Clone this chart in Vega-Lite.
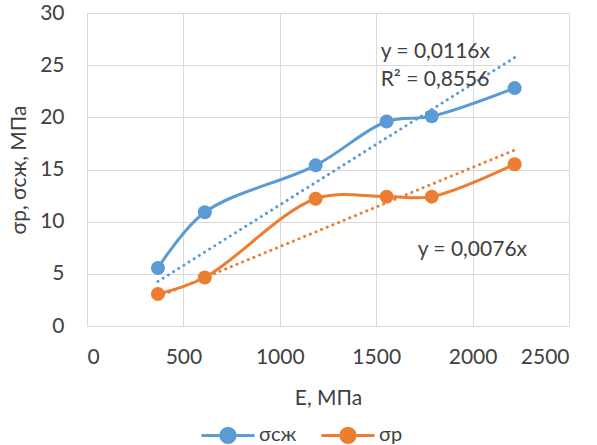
{
  "$schema": "https://vega.github.io/schema/vega-lite/v6.json",
  "width": 482,
  "height": 313,
  "autosize": {"type": "none"},
  "padding": {"left": 87, "top": 13, "right": 28, "bottom": 119},
  "background": "white",
  "config": {
    "font": "Lato",
    "view": {"stroke": null},
    "axis": {
      "labelFont": "Lato", "labelFontSize": 21, "labelColor": "#404040",
      "titleFont": "Lato", "titleFontSize": 21, "titleColor": "#404040", "titleFontWeight": "normal",
      "gridColor": "#d9d9d9", "gridWidth": 1, "domainColor": "#d9d9d9", "domainWidth": 1,
      "ticks": false, "tickSize": 0
    },
    "legend": {"labelFont": "Lato", "labelFontSize": 20, "labelColor": "#404040"}
  },
  "datasets": {
    "obs": [
      {"E": 368, "v": 5.56, "s": "σсж"},
      {"E": 611, "v": 10.9, "s": "σсж"},
      {"E": 1186, "v": 15.4, "s": "σсж"},
      {"E": 1554, "v": 19.6, "s": "σсж"},
      {"E": 1788, "v": 20.1, "s": "σсж"},
      {"E": 2218, "v": 22.8, "s": "σсж"},
      {"E": 368, "v": 3.07, "s": "σр"},
      {"E": 611, "v": 4.65, "s": "σр"},
      {"E": 1186, "v": 12.2, "s": "σр"},
      {"E": 1554, "v": 12.4, "s": "σр"},
      {"E": 1788, "v": 12.4, "s": "σр"},
      {"E": 2218, "v": 15.5, "s": "σр"}
    ],
    "trend": [
      {"E": 368, "v": 4.27, "s": "σсж"},
      {"E": 2218, "v": 25.73, "s": "σсж"},
      {"E": 368, "v": 2.8, "s": "σр"},
      {"E": 2218, "v": 16.86, "s": "σр"}
    ],
    "notes": [
      {"E": 1523, "v": 26.3, "t": "y = 0,0116x"},
      {"E": 1523, "v": 23.6, "t": "R² = 0,8556"},
      {"E": 1715, "v": 7.3, "t": "y = 0,0076x"}
    ]
  },
  "layer": [
    {
      "data": {"name": "trend"},
      "mark": {"type": "line", "strokeWidth": 3, "strokeDash": [0.1, 6], "strokeCap": "round"},
      "encoding": {
        "x": {"field": "E", "type": "quantitative"},
        "y": {"field": "v", "type": "quantitative"},
        "color": {"field": "s", "type": "nominal"},
        "detail": {"field": "s"}
      }
    },
    {
      "data": {"name": "obs"},
      "mark": {"type": "line", "strokeWidth": 3, "interpolate": "catmull-rom"},
      "encoding": {
        "x": {"field": "E", "type": "quantitative", "scale": {"domain": [0, 2500], "nice": false},
          "axis": {"values": [0, 500, 1000, 1500, 2000, 2500], "format": "d", "title": "E, МПа", "labelPadding": 20, "titlePadding": 20}},
        "y": {"field": "v", "type": "quantitative", "scale": {"domain": [0, 30], "nice": false},
          "axis": {"values": [0, 5, 10, 15, 20, 25, 30], "format": "d", "title": "σр, σсж, МПа", "labelPadding": 23, "titlePadding": 10}},
        "color": {"field": "s", "type": "nominal",
          "scale": {"domain": ["σсж", "σр"], "range": ["#5B9BD5", "#ED7D31"]},
          "legend": {
            "title": null, "orient": "none", "direction": "horizontal",
            "legendX": 113, "legendY": 394,
            "symbolType": "M-1,0L1,0M-0.27,0A0.27,0.27,0,1,1,0.27,0A0.27,0.27,0,1,1,-0.27,0",
            "symbolSize": 2809, "symbolStrokeWidth": 3, "labelOffset": 3, "columnPadding": 18,
            "encode": {"symbols": {"update": {
              "fill": {"scale": "color", "field": "value"},
              "stroke": {"scale": "color", "field": "value"},
              "opacity": {"value": 1}
            }}}
          }}
      }
    },
    {
      "data": {"name": "obs"},
      "mark": {"type": "point", "filled": true, "size": 196, "opacity": 1},
      "encoding": {
        "x": {"field": "E", "type": "quantitative"},
        "y": {"field": "v", "type": "quantitative"},
        "color": {"field": "s", "type": "nominal"}
      }
    },
    {
      "data": {"name": "notes"},
      "mark": {"type": "text", "align": "left", "baseline": "middle", "fontSize": 21, "color": "#404040", "font": "Lato"},
      "encoding": {
        "x": {"field": "E", "type": "quantitative"},
        "y": {"field": "v", "type": "quantitative"},
        "text": {"field": "t"}
      }
    }
  ]
}
